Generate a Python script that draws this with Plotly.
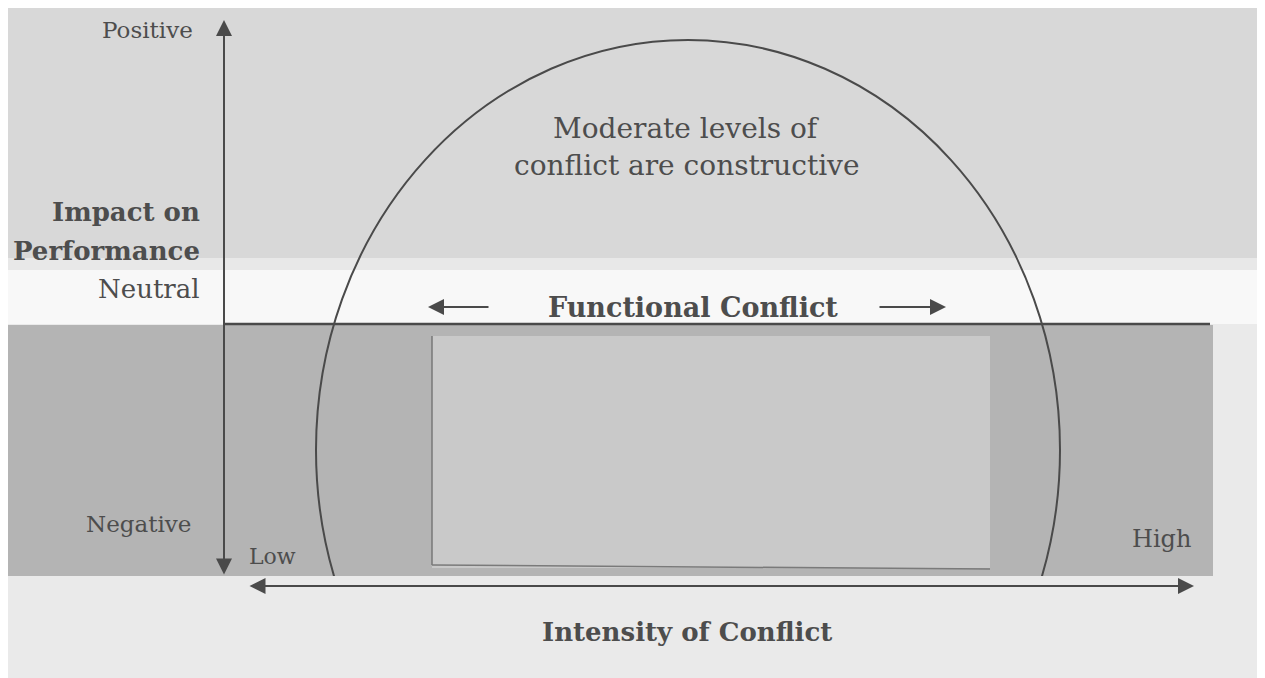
"""Conflict intensity vs. impact on performance diagram"""

import plotly.graph_objects as go

# labels
VALENCE_LABELS = ["Positive", "Neutral", "Negative"]
INTENSITY_LABELS = ["Low", "High"]
Y_TITLE_LINES = ["Impact on", "Performance"]
X_TITLE = "Intensity of Conflict"
CURVE_NOTE = ["Moderate levels of", "conflict are constructive"]
ZONE_LABEL = "Functional Conflict"

W, H = 1265, 678
OFFSET = 8  # the page body margin shifts the figure by this much
FONT = "DejaVu Serif"
INK = "#4d4d4d"
LINE = "#4a4a4a"
BOTTOM = 576


def label(text, x, y, size=24, bold=False, xanchor="center"):
    """Text annotation in pixel-like data coordinates"""
    if bold:
        text = f"<b>{text}</b>"
    return dict(x=x, y=y, xref="x", yref="y", text=text, showarrow=False,
                xanchor=xanchor, yanchor="middle",
                font=dict(family=FONT, size=size, color=INK))


def arrow(x0, y0, x1, y1, both=False):
    """Arrow from (x0, y0) to (x1, y1)"""
    return dict(x=x1, y=y1, ax=x0, ay=y0, xref="x", yref="y", axref="x", ayref="y",
                text="", showarrow=True, arrowhead=2, arrowsize=1.6, arrowwidth=2,
                arrowcolor=LINE, arrowside="end+start" if both else "end",
                standoff=0, startstandoff=0)


def rect(x0, y0, x1, y1, color):
    return dict(type="rect", xref="x", yref="y", x0=x0, y0=y0, x1=x1, y1=y1,
                fillcolor=color, line=dict(width=0), layer="below")


fig = go.Figure()

# empty traces so both subplots exist
fig.add_trace(go.Scatter(x=[0], y=[0], mode="markers", marker=dict(opacity=0),
                         hoverinfo="skip", showlegend=False))
fig.add_trace(go.Scatter(x=[0], y=[0], mode="markers", marker=dict(opacity=0),
                         hoverinfo="skip", showlegend=False, xaxis="x2", yaxis="y2"))

shapes = [
    # backgrounds
    rect(0, 0, 1258, 258, "#d8d8d8"),
    rect(0, 258, 1258, 270, "#e8e8e8"),
    rect(0, 270, 1258, 324, "#f8f8f8"),
    rect(0, 325, 1213, BOTTOM, "#b4b4b4"),
    rect(432, 336, 990, BOTTOM - 8, "#c9c9c9"),
    dict(type="line", xref="x", yref="y", x0=432, y0=336, x1=432, y1=BOTTOM - 11,
         line=dict(color="#777777", width=1.5)),
    dict(type="line", xref="x", yref="y", x0=432, y0=BOTTOM - 11, x1=990, y1=BOTTOM - 7,
         line=dict(color="#7a7a7a", width=1.5)),
    # neutral line
    dict(type="line", xref="x", yref="y", x0=224, y0=324, x1=1210, y1=324,
         line=dict(color=LINE, width=2.5)),
    # constructive curve, clipped at the bottom of the chart area
    dict(type="circle", xref="x2", yref="y2", x0=316, x1=1060, y0=40, y1=860,
         line=dict(color=LINE, width=2), fillcolor="rgba(0,0,0,0)"),
]

annotations = [
    arrow(224, BOTTOM, 224, 20, both=True),
    arrow(248, BOTTOM + 10, 1194, BOTTOM + 10, both=True),
    arrow(490, 307, 428, 307),
    arrow(878, 307, 946, 307),
    label(VALENCE_LABELS[0], 195, 30, size=23, xanchor="right"),
    label(Y_TITLE_LINES[0], 202, 212, size=26, bold=True, xanchor="right"),
    label(Y_TITLE_LINES[1], 202, 251, size=26, bold=True, xanchor="right"),
    label(VALENCE_LABELS[1], 202, 289, size=26, xanchor="right"),
    label(VALENCE_LABELS[2], 193, 524, size=23, xanchor="right"),
    label(INTENSITY_LABELS[0], 247, 556, size=22, xanchor="left"),
    label(INTENSITY_LABELS[1], 1193, 539, size=24, xanchor="right"),
    label(CURVE_NOTE[0], 686, 128, size=28),
    label(CURVE_NOTE[1], 686, 165, size=28),
    label(ZONE_LABEL, 693, 307, size=27, bold=True),
    label(X_TITLE, 687, 632, size=26, bold=True),
]

fig.update_layout(
    width=W, height=H,
    margin=dict(l=0, r=0, t=0, b=0),
    paper_bgcolor="#eaeaea", plot_bgcolor="rgba(0,0,0,0)",
    showlegend=False,
    shapes=shapes, annotations=annotations,
    xaxis=dict(range=[OFFSET, W + OFFSET], visible=False, domain=[0, 1]),
    yaxis=dict(range=[H + OFFSET, OFFSET], visible=False, domain=[0, 1]),
    xaxis2=dict(range=[OFFSET, W + OFFSET], visible=False, domain=[0, 1], anchor="y2"),
    yaxis2=dict(range=[BOTTOM, OFFSET], visible=False,
                domain=[(H + OFFSET - BOTTOM) / H, 1], anchor="x2"),
)

fig.write_html("out.html")
